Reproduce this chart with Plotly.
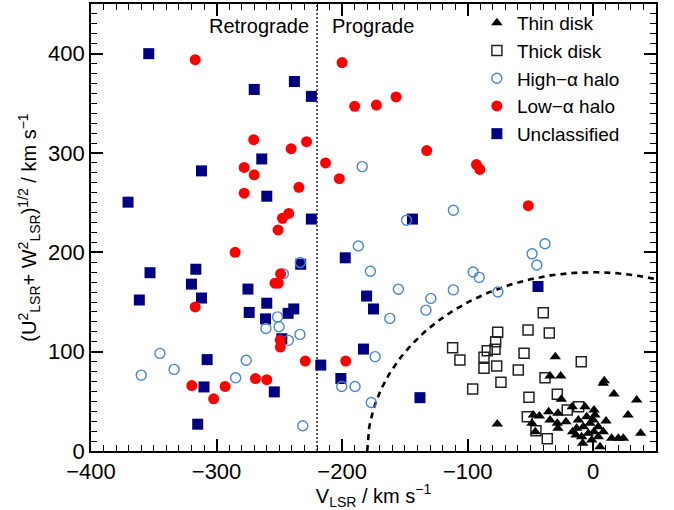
import numpy as np
import plotly.graph_objects as go

# Toomre diagram: V_LSR against sqrt(U^2 + W^2), by population

thin_v = [-30.2, -34.4, -25.9, 8.8, 8.0, 16.5, 34.6, -25.4, -16.7, -6.6, 0.6, -47.7,
          -42.9, -35.5, -28.1, -34.4, -28.6, -21.7, -48.8, -46.1, -28.1, -11.9, -5.2,
          1.4, 10.2, 27.7, -13.2, -7.9, -2.6, 4.0, 8.0, -13.7, -9.2, -3.9, 0.6, 4.0,
          -8.4, -1.2, 5.4, 14.7, 20.0, 24.0, 37.8, -76.4, -16.4, 0.0]
thin_u = [95.0, 75.5, 75.5, 70.8, 68.2, 57.4, 51.3, 52.0, 44.6, 44.6, 41.3, 36.2,
          35.2, 39.6, 38.0, 31.2, 27.9, 29.5, 27.9, 19.4, 22.9, 31.2, 34.5,
          36.2, 30.2, 36.2, 22.9, 24.5, 27.9, 24.5, 19.4, 16.1, 14.4, 17.8, 19.4, 14.4,
          7.8, 11.1, 4.4, 12.8, 12.8, 12.8, 17.8, 27.2, 19.4, 31.2]

thick_v = [-112.0, -106.2, -96.0, -87.0, -87.0, -84.4, -78.2, -77.7, -76.1, -76.9,
           -73.5, -59.7, -55.1, -51.9, -39.8, -35.0, -9.5, -38.4, -51.2, -28.6,
           -52.5, -45.6, -36.6, -11.6, -20.7]
thick_u = [104.0, 91.5, 62.5, 94.3, 83.3, 101.0, 102.4, 110.0, 119.5, 85.6,
           69.2, 81.5, 98.4, 121.8, 139.2, 118.8, 89.9, 73.8, 54.1, 57.1,
           34.5, 20.4, 12.4, 44.6, 41.3]

high_v = [-184.0, -111.4, -148.7, -187.1, -38.4, -48.7, -44.9, -233.3, -246.8, -177.5,
          -95.7, -90.8, -155.2, -111.4, -75.9, -129.3, -133.2, -162.0, -251.4, -260.7,
          -250.2, -233.6, -242.8, -345.1, -276.4, -333.8, -360.0, -284.8, -173.7,
          -200.3, -189.7, -176.8, -231.3]
high_u = [286.3, 242.3, 232.3, 206.4, 208.6, 198.6, 187.3, 189.8, 178.3, 181.0,
          180.2, 174.8, 162.9, 162.2, 160.0, 153.6, 141.8, 133.5, 135.0, 123.3,
          125.1, 117.4, 111.4, 98.3, 91.4, 82.2, 76.4, 73.7, 95.0,
          65.0, 65.0, 48.8, 25.4]

low_v = [-317.0, -200.0, -190.0, -172.7, -157.0, -270.4, -228.3, -240.6, -132.6, -213.2,
         -278.0, -270.0, -202.2, -93.0, -90.3, -234.4, -278.0, -242.5, -247.5, -251.0,
         -51.7, -285.2, -249.0, -253.5, -250.8, -317.0, -249.3, -249.2, -229.3, -197.1,
         -269.0, -260.0, -319.7, -293.2, -302.3]
low_u = [394.0, 391.0, 347.0, 348.3, 356.4, 313.4, 311.4, 304.4, 302.4, 290.0,
         285.5, 278.0, 274.2, 288.3, 283.5, 265.5, 259.6, 239.2, 234.3, 222.6,
         247.0, 200.0, 178.4, 168.9, 168.9, 145.0, 111.7, 104.6, 90.5, 90.5,
         72.9, 71.8, 65.9, 65.0, 52.5]

uncl_v = [-354.0, -270.0, -238.0, -224.5, -264.0, -312.0, -260.0, -370.5, -224.5, -144.0,
          -197.5, -233.0, -316.5, -353.0, -320.0, -275.0, -312.0, -361.5, -180.5, -260.0,
          -175.0, -238.5, -274.0, -243.0, -261.0, -248.0, -183.0, -307.5, -217.0, -201.0,
          -310.0, -254.0, -138.0, -315.0, -44.0]
uncl_u = [400.0, 364.0, 372.0, 357.0, 294.0, 282.0, 256.5, 250.5, 233.5, 233.5,
          194.5, 188.0, 183.0, 179.5, 168.0, 163.0, 154.0, 152.0, 156.0, 148.8,
          143.0, 143.0, 139.5, 138.6, 133.0, 113.0, 102.6, 92.0, 86.5, 73.0,
          64.5, 59.5, 53.7, 27.0, 165.6]

# Prograde/retrograde divide and the halo boundary |V_tot| = 180 km/s
V_SPLIT = -220.0
V_TOT = 180.0
X_RANGE = [-400, 50]
Y_RANGE = [0, 450]

FONT = "Liberation Sans, Arial, Helvetica, sans-serif"

fig = go.Figure()

# boundary curve
curve_v = np.linspace(-V_TOT, X_RANGE[1], 300)
curve_u = np.sqrt(np.clip(V_TOT**2 - curve_v**2, 0, None))
fig.add_trace(go.Scatter(x=curve_v, y=curve_u, mode="lines", showlegend=False,
                         line=dict(color="black", width=2.6, dash="6px,5px"),
                         hoverinfo="skip"))
# retrograde / prograde divide
fig.add_trace(go.Scatter(x=[V_SPLIT, V_SPLIT], y=Y_RANGE, mode="lines", showlegend=False,
                         line=dict(color="#333333", width=1.6, dash="2px,2px"),
                         hoverinfo="skip"))

fig.add_trace(go.Scatter(x=uncl_v, y=uncl_u, mode="markers", name="Unclassified",
                         legendrank=5,
                         marker=dict(symbol="square", size=11, color="#000080",
                                     line=dict(width=0))))
fig.add_trace(go.Scatter(x=thick_v, y=thick_u, mode="markers", name="Thick disk",
                         legendrank=2,
                         marker=dict(symbol="square-open", size=10, color="#222222",
                                     line=dict(width=1.5))))
fig.add_trace(go.Scatter(x=thin_v, y=thin_u, mode="markers", name="Thin disk",
                         legendrank=1,
                         marker=dict(symbol="triangle-up", size=10, color="black",
                                     line=dict(width=0))))
fig.add_trace(go.Scatter(x=high_v, y=high_u, mode="markers", name="High−α halo",
                         legendrank=3,
                         marker=dict(symbol="circle-open", size=10, color="#4a86c5",
                                     line=dict(width=1.4))))
fig.add_trace(go.Scatter(x=low_v, y=low_u, mode="markers", name="Low−α halo",
                         legendrank=4,
                         marker=dict(symbol="circle", size=11, color="#ff0000",
                                     line=dict(width=0))))

fig.add_annotation(x=V_SPLIT - 5, y=428, text="Retrograde", showarrow=False,
                   xanchor="right", yanchor="middle", font=dict(size=20, color="black"))
fig.add_annotation(x=V_SPLIT + 10, y=428, text="Prograde", showarrow=False,
                   xanchor="left", yanchor="middle", font=dict(size=20, color="black"))

# inward ticks on all four sides: major every 100, minor every 10
axis_common = dict(
    showline=True, linecolor="black", linewidth=1.6, mirror="allticks",
    ticks="inside", ticklen=12, tickwidth=1.6, tickcolor="black",
    minor=dict(ticks="inside", ticklen=6, tickwidth=1.3, tickcolor="black",
               dtick=10, showgrid=False),
    showgrid=False, zeroline=False,
    tickfont=dict(size=22, color="black", family=FONT),
)

fig.update_xaxes(range=X_RANGE, dtick=100, tick0=0, **axis_common,
                 title=dict(text="V<sub>LSR</sub> / km s<sup>−1</sup>",
                            font=dict(size=20, color="black", family=FONT), standoff=4))
fig.update_yaxes(range=Y_RANGE, dtick=100, tick0=0, **axis_common,
                 title=dict(text="(U<sup>2</sup><sub>LSR</sub>+ W<sup>2</sup><sub>LSR</sub>)<sup>1/2</sup> / km s<sup>−1</sup>",
                            font=dict(size=20, color="black", family=FONT), standoff=6))

fig.update_layout(
    template="none",
    width=674, height=510,
    margin=dict(l=91, r=18, t=4, b=59, autoexpand=False),
    paper_bgcolor="white", plot_bgcolor="white",
    font=dict(family=FONT, color="black"),
    legend=dict(x=0.683, y=1.0, xanchor="left", yanchor="top",
                bgcolor="rgba(0,0,0,0)", borderwidth=0,
                font=dict(size=19, color="black", family=FONT),
                itemsizing="trace", tracegroupgap=0),
    showlegend=True,
)

fig.write_html("out.html")
